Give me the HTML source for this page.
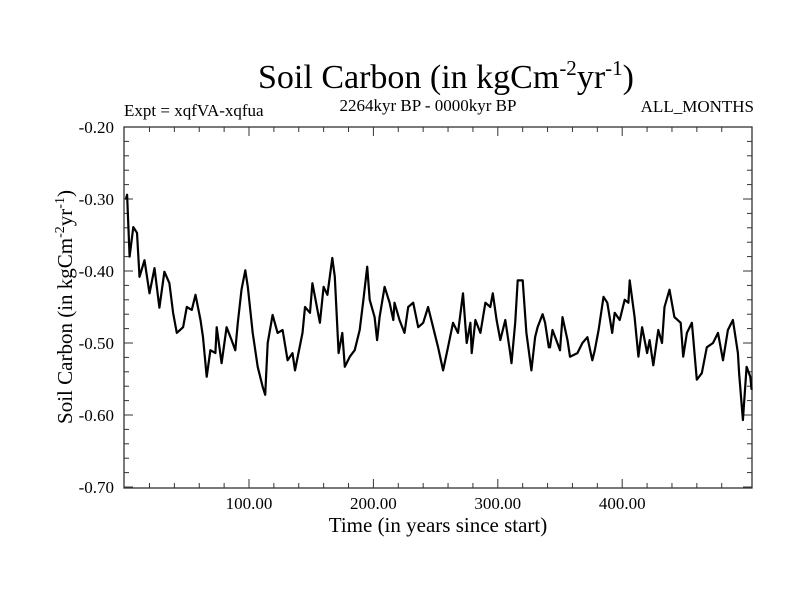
<!DOCTYPE html>
<html><head><meta charset="utf-8"><style>
html,body{margin:0;padding:0;background:#fff;}
svg text{font-family:"Liberation Serif",serif;fill:#000;}
</style></head><body>
<svg id="chart" width="800" height="600" viewBox="0 0 800 600" xmlns="http://www.w3.org/2000/svg">
<rect width="800" height="600" fill="#fff"/>
<text x="446" y="88" font-size="34" text-anchor="middle">Soil Carbon (in kgCm<tspan dy="-13" font-size="21">-2</tspan><tspan dy="13">yr</tspan><tspan dy="-13" font-size="21">-1</tspan><tspan dy="13">)</tspan></text>
<text x="124" y="116" font-size="17">Expt = xqfVA-xqfua</text>
<text x="428" y="111" font-size="17" text-anchor="middle">2264kyr BP - 0000kyr BP</text>
<text x="754" y="112" font-size="17" text-anchor="end">ALL_MONTHS</text>
<text x="438" y="532" font-size="21" text-anchor="middle">Time (in years since start)</text>
<text transform="translate(72,307) rotate(-90)" font-size="21" text-anchor="middle">Soil Carbon (in kgCm<tspan dy="-8" font-size="14">-2</tspan><tspan dy="8">yr</tspan><tspan dy="-8" font-size="14">-1</tspan><tspan dy="8">)</tspan></text>
<g id="axes"></g>
<path id="series" fill="none" stroke="#000" stroke-width="2.2" stroke-linejoin="round"/>
</svg>
<script>
const xTicks=[100,200,300,400];
const xTickLabels=["100.00","200.00","300.00","400.00"];
const yTicks=[-0.2,-0.3,-0.4,-0.5,-0.6,-0.7];
const yTickLabels=["-0.20","-0.30","-0.40","-0.50","-0.60","-0.70"];
const times=[1,2,4,7,10,12,16,20,24,28,32,36,39,42,47,50,54,57,61,63,66,69,73,74,78,82,86,89,91,94,97,99,103,107,111,113,115,119,123,127,131,135,137,143,145,149,151,157,160,163,167,169,172,175,177,181,185,189,192,195,197,201,203,205,209,213,216,217,221,225,228,232,236,240,244,248,252,256,260,264,268,272,275,278,279,282,286,290,294,296,299,302,306,310,311,314,316,320,323,327,330,332,336,338,341,342,344,347,350,352,356,358,364,368,372,376,378,381,385,388,392,394,398,402,405,406,410,413,416,420,422,425,429,432,434,438,442,447,449,452,456,460,464,468,473,477,481,485,489,493,494,497,500,503,504];
const values=[-0.301,-0.294,-0.38,-0.339,-0.347,-0.408,-0.385,-0.431,-0.396,-0.451,-0.401,-0.417,-0.458,-0.486,-0.478,-0.45,-0.454,-0.433,-0.468,-0.492,-0.547,-0.51,-0.514,-0.478,-0.528,-0.478,-0.496,-0.51,-0.472,-0.426,-0.399,-0.422,-0.486,-0.533,-0.561,-0.572,-0.5,-0.461,-0.486,-0.482,-0.524,-0.514,-0.538,-0.486,-0.45,-0.458,-0.417,-0.472,-0.422,-0.433,-0.382,-0.408,-0.514,-0.486,-0.533,-0.519,-0.51,-0.482,-0.44,-0.394,-0.44,-0.464,-0.496,-0.464,-0.422,-0.444,-0.468,-0.444,-0.468,-0.486,-0.45,-0.444,-0.478,-0.472,-0.45,-0.478,-0.506,-0.538,-0.506,-0.472,-0.486,-0.431,-0.5,-0.472,-0.514,-0.468,-0.486,-0.444,-0.45,-0.431,-0.468,-0.496,-0.468,-0.514,-0.528,-0.472,-0.413,-0.413,-0.486,-0.538,-0.492,-0.478,-0.46,-0.472,-0.506,-0.506,-0.482,-0.496,-0.51,-0.464,-0.496,-0.519,-0.514,-0.5,-0.492,-0.524,-0.51,-0.482,-0.436,-0.444,-0.486,-0.458,-0.468,-0.44,-0.444,-0.413,-0.464,-0.519,-0.478,-0.514,-0.496,-0.531,-0.482,-0.5,-0.45,-0.426,-0.464,-0.472,-0.519,-0.486,-0.472,-0.551,-0.542,-0.506,-0.5,-0.486,-0.524,-0.482,-0.468,-0.514,-0.542,-0.607,-0.533,-0.547,-0.565];
const X0=124.6,XS=1.244,Y0=127,YS=720,L=124,R=752,T=127,B=488;
const xs=t=>X0+t*XS;
const ys=v=>Y0+(-0.2-v)*YS;
const g=document.getElementById('axes');
const NS="http://www.w3.org/2000/svg";
function mk(tag,a){const e=document.createElementNS(NS,tag);for(const k in a)e.setAttribute(k,a[k]);g.appendChild(e);return e;}
const frame=mk('rect',{x:L,y:T,width:R-L,height:B-T,fill:'none',stroke:'#333','stroke-width':1.3});


for(let t=20;t<500;t+=20){const x=xs(t);const maj=t%100===0;const len=maj?9:5;
 mk('line',{x1:x,y1:B,x2:x,y2:B-len,stroke:'#333'});mk('line',{x1:x,y1:T,x2:x,y2:T+len,stroke:'#333'});}
xTicks.forEach((t,i)=>{const e=mk('text',{x:xs(t),y:B+21,'font-size':17,'text-anchor':'middle'});e.textContent=xTickLabels[i];
 
 });
for(let k=0;k<=25;k++){const v=-0.2-k*0.02;const y=ys(v);const maj=k%5===0;const len=maj?9:5;
 mk('line',{x1:L,y1:y,x2:L+len,y2:y,stroke:'#333'});mk('line',{x1:R,y1:y,x2:R-len,y2:y,stroke:'#333'});}
yTicks.forEach((v,i)=>{const e=mk('text',{x:L-10,y:ys(v)+6,'font-size':17,'text-anchor':'end'});e.textContent=yTickLabels[i];
 
 });
document.getElementById('series').setAttribute('d',times.map((t,i)=>(i?'L':'M')+xs(t).toFixed(1)+','+ys(values[i]).toFixed(1)).join(''));
</script>
</body></html>
